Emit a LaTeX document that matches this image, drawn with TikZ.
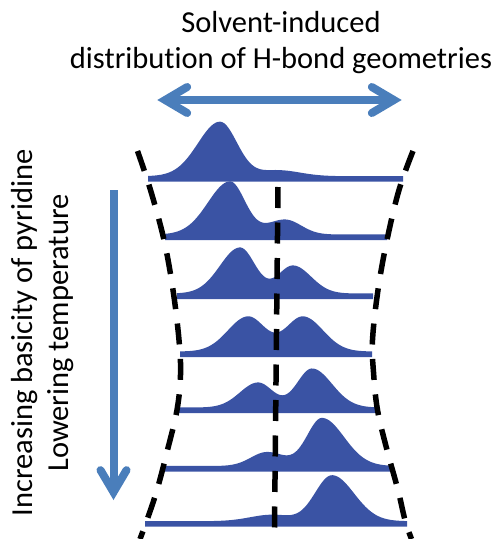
\documentclass[tikz,border=0pt]{standalone}
\usepackage{fontspec}
\setmainfont{Carlito}[Ligatures=NoCommon]
\usepackage{tikz}
\usetikzlibrary{arrows.meta}

\begin{document}
\begin{tikzpicture}[x=1pt, y=-1pt,
    >={Straight Barb[length=22pt, width=26pt, line cap=round, line join=miter]},
    declare function={sq(\qu)=\qu*\qu;
        pk(\qx,\qm,\ql,\qr)=exp(-min(0.5*sq((\qx-\qm)/((\qx<\qm)*\ql+(\qx>=\qm)*\qr)),9));},
    bigarrow/.style={line width=8pt, arrowblue},
    dashline/.style={line width=5.5pt, dash pattern=on 21pt off 14.5pt},
    label/.style={font=\fontsize{30.5}{36}\selectfont, align=center, inner sep=0pt}]
    % Colours
    \definecolor{arrowblue}{RGB}{74,126,187}
    \definecolor{peakblue}{RGB}{58,83,164}
    \useasboundingbox (0,0) rectangle (495,539);

    % 1. Distributions (two skewed peaks on a flat strip)
    \foreach \yb/\xl/\xr/\pa/\ha/\la/\ra/\pb/\hb/\lb/\rb in {
        181.7/148/403/220/54.5/22/17/278/6/18/22,
        240/165/387/230/53/22/15/285/15/18/16,
        299/177/373/240/46/20/15/293/28/15/18,
        357/180/372/248/35/20/17/303/35/17/20,
        413/175/377/258/25/18/15/312/39/15/20,
        471.5/162/390/267/14/16/18/322/48/15/22,
        526.7/145/407/272/6.5/22/18/332/46/17/22}
    {
        \fill[peakblue] (\xl,\yb) --
            plot[domain=\xl:\xr, samples=121]
            (\x, {\yb-5.5-\ha*pk(\x,\pa,\la,\ra)-\hb*pk(\x,\pb,\lb,\rb)})
            -- (\xr,\yb) -- cycle;
    }

    % 2. Dashed hourglass and centre line
    \draw[dashline] plot[smooth, tension=0.6] coordinates {
        (137.5,151) (150.5,190) (164,240) (173,290) (179,340) (180.5,375)
        (177,410) (167.5,450) (157,490) (147,520) (140,539)};
    \draw[dashline] plot[smooth, tension=0.6] coordinates {
        (413,151) (399,190) (387,240) (378,290) (372.5,340) (373.5,372)
        (377.5,410) (387,450) (398,490) (405,520) (411.5,539)};
    \coordinate (ctop) at (278,187);
    \coordinate (cbot) at (274.5,528);
    \draw[dashline] (ctop) -- (cbot);

    % 3. Arrows
    \coordinate (wl) at (157.3,100);
    \coordinate (wr) at (401.7,100);
    \draw[bigarrow, <->] (wl) -- (wr);
    \coordinate (dtop) at (113.5,190);
    \coordinate (dbot) at (113.5,500);
    \draw[bigarrow, ->] (dtop) -- (dbot);

    % 4. Labels
    \node[label] (title) at (281,43) {Solvent-induced\\distribution of H-bond geometries};
    \node[label, rotate=90] (trend) at (43,333) {Increasing basicity of pyridine\\Lowering temperature};
\end{tikzpicture}
\end{document}
